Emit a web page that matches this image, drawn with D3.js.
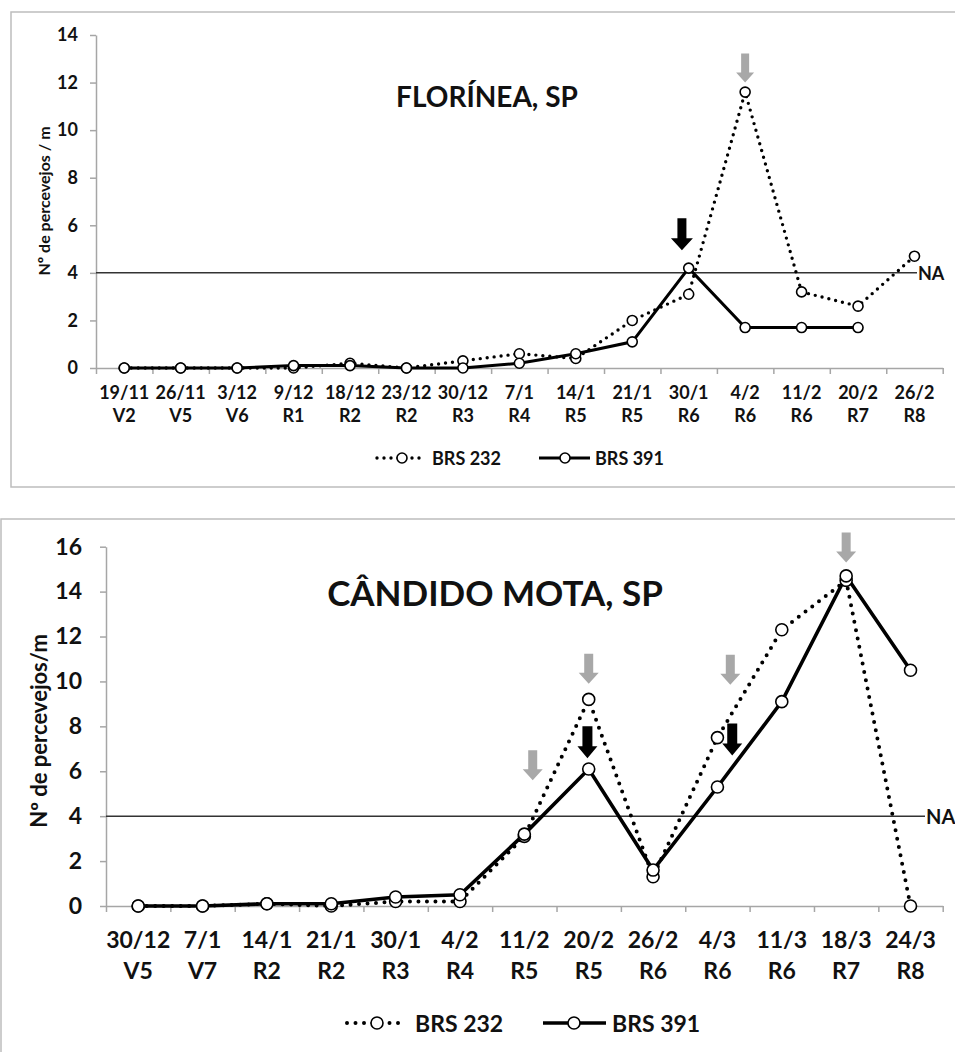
<!DOCTYPE html>
<html>
<head>
<meta charset="utf-8">
<script src="https://cdnjs.cloudflare.com/ajax/libs/d3/7.8.5/d3.min.js"></script>
<style>
  body { margin: 0; background: #fff; }
</style>
</head>
<body>
<script>
// Florínea, SP - dates, stages and counts (bugs per metre)
const FLO_DATES = ["19/11", "26/11", "3/12", "9/12", "18/12", "23/12", "30/12", "7/1", "14/1", "21/1", "30/1", "4/2", "11/2", "20/2", "26/2"];
const FLO_STAGES = ["V2", "V5", "V6", "R1", "R2", "R2", "R3", "R4", "R5", "R5", "R6", "R6", "R6", "R7", "R8"];
const FLO_BRS232 = [0, 0, 0, 0, 0.2, 0, 0.3, 0.6, 0.4, 2.0, 3.1, 11.6, 3.2, 2.6, 4.7];
const FLO_BRS391 = [0, 0, 0, 0.1, 0.1, 0, 0, 0.2, 0.6, 1.1, 4.2, 1.7, 1.7, 1.7, null];
const FLO_YTICKS = [0, 2, 4, 6, 8, 10, 12, 14];
// spray marks: [category position, value at arrow tip]
const FLO_SPRAY_232 = [[11, 12.0]];
const FLO_SPRAY_391 = [[9.88, 4.95]];

// Cândido Mota, SP
const CM_DATES = ["30/12", "7/1", "14/1", "21/1", "30/1", "4/2", "11/2", "20/2", "26/2", "4/3", "11/3", "18/3", "24/3"];
const CM_STAGES = ["V5", "V7", "R2", "R2", "R3", "R4", "R5", "R5", "R6", "R6", "R6", "R7", "R8"];
const CM_BRS232 = [0, 0, 0.1, 0, 0.2, 0.2, 3.1, 9.2, 1.3, 7.5, 12.3, 14.5, 0];
const CM_BRS391 = [0, 0, 0.1, 0.1, 0.4, 0.5, 3.2, 6.1, 1.6, 5.3, 9.1, 14.7, 10.5];
const CM_YTICKS = [0, 2, 4, 6, 8, 10, 12, 14, 16];
const CM_SPRAY_232 = [[6.13, 5.6], [7, 9.9], [9.2, 9.85], [11, 15.3]];
const CM_SPRAY_391 = [[6.98, 6.58], [9.23, 6.7]];

const NA_LEVEL = 4;
const SERIES_NAMES = ["BRS 232", "BRS 391"];

const FONT = "Lato, 'Open Sans', sans-serif";
const W = 955, H = 1052;

const svg = d3.select("body").append("svg")
  .attr("width", W)
  .attr("height", H)
  .style("background", "#fff");

function arrowPath(tx, ty, a) {
  return "M" + (tx - a.sw) + "," + (ty - a.len) +
         "L" + (tx + a.sw) + "," + (ty - a.len) +
         "L" + (tx + a.sw) + "," + (ty - a.hh) +
         "L" + (tx + a.hw) + "," + (ty - a.hh) +
         "L" + tx + "," + ty +
         "L" + (tx - a.hw) + "," + (ty - a.hh) +
         "L" + (tx - a.sw) + "," + (ty - a.hh) + "Z";
}

function drawPanel(o) {
  const n = o.dates.length;
  const g = svg.append("g");

  // outer frame
  g.append("rect")
    .attr("x", o.frame[0]).attr("y", o.frame[1])
    .attr("width", o.frame[2]).attr("height", o.frame[3])
    .attr("fill", "none").attr("stroke", "#bdbdbd").attr("stroke-width", 1.5);

  const x = d3.scaleLinear().domain([0, n]).range([o.left, o.right]);
  const y = d3.scaleLinear().domain([0, o.yMax]).range([o.bottom, o.top]);

  // y axis
  const ya = g.append("g")
    .attr("transform", "translate(" + o.left + ",0)")
    .call(d3.axisLeft(y).tickValues(o.yTicks).tickSize(6).tickSizeOuter(0).tickPadding(o.yPad));
  ya.select(".domain").attr("stroke", "#a6a6a6").attr("stroke-width", 1.5);
  ya.selectAll(".tick line").attr("stroke", "#a6a6a6").attr("stroke-width", 1.5);
  ya.selectAll(".tick text")
    .attr("font-family", FONT).attr("font-weight", "bold")
    .attr("font-size", o.tickFont).attr("fill", "#111");

  // x axis, ticks between categories
  const xa = g.append("g")
    .attr("transform", "translate(0," + o.bottom + ")")
    .call(d3.axisBottom(x).tickValues(d3.range(n + 1)).tickFormat("").tickSize(6).tickSizeOuter(0));
  xa.select(".domain").attr("stroke", "#a6a6a6").attr("stroke-width", 1.5);
  xa.selectAll(".tick line").attr("stroke", "#a6a6a6").attr("stroke-width", 1.5);

  // category labels (date + stage)
  const lab = g.append("g")
    .attr("font-family", FONT).attr("font-weight", "bold")
    .attr("font-size", o.tickFont).attr("fill", "#111")
    .attr("text-anchor", "middle");
  lab.selectAll(".date")
    .data(o.dates)
    .enter()
    .append("text")
      .attr("x", (d, i) => x(i + 0.5))
      .attr("y", o.dateY)
      .text(d => d);
  lab.selectAll(".stage")
    .data(o.stages)
    .enter()
    .append("text")
      .attr("x", (d, i) => x(i + 0.5))
      .attr("y", o.stageY)
      .text(d => d);

  // y label
  g.append("text")
    .attr("transform", "translate(" + o.ylab[0] + "," + o.ylab[1] + ") rotate(-90)")
    .attr("text-anchor", "middle").attr("dominant-baseline", "central")
    .attr("font-family", FONT).attr("font-weight", "bold")
    .attr("font-size", o.ylabFont).attr("fill", "#111")
    .text(o.ylabText);

  // title
  g.append("text")
    .attr("x", o.title[0]).attr("y", o.title[1])
    .attr("text-anchor", "middle")
    .attr("font-family", FONT).attr("font-weight", "bold")
    .attr("font-size", o.titleFont).attr("fill", "#111")
    .text(o.titleText);

  // action threshold (NA)
  g.append("line")
    .attr("x1", o.left).attr("x2", o.naEnd)
    .attr("y1", y(NA_LEVEL)).attr("y2", y(NA_LEVEL))
    .attr("stroke", "#333").attr("stroke-width", 1.5);
  g.append("text")
    .attr("x", o.naEnd + 1).attr("y", y(NA_LEVEL))
    .attr("dominant-baseline", "central")
    .attr("font-family", FONT).attr("font-weight", "bold")
    .attr("font-size", o.naFont).attr("fill", "#111")
    .text("NA");

  const line = d3.line()
    .defined(d => d != null)
    .x((d, i) => x(i + 0.5))
    .y(d => y(d));

  g.append("path")
    .datum(o.s232)
    .attr("d", line)
    .attr("fill", "none").attr("stroke", "#000")
    .attr("stroke-width", o.dotW)
    .attr("stroke-linecap", "round")
    .attr("stroke-dasharray", "0," + o.dotGap);

  g.append("path")
    .datum(o.s391)
    .attr("d", line)
    .attr("fill", "none").attr("stroke", "#000")
    .attr("stroke-width", o.solidW)
    .attr("stroke-linejoin", "miter");

  [o.s232, o.s391].forEach(s => {
    g.selectAll(null)
      .data(s.map((v, i) => [i, v]).filter(d => d[1] != null))
      .enter()
      .append("circle")
        .attr("cx", d => x(d[0] + 0.5))
        .attr("cy", d => y(d[1]))
        .attr("r", o.r)
        .attr("fill", "#fff").attr("stroke", "#000").attr("stroke-width", 1.6);
  });

  // spray arrows
  g.selectAll(null)
    .data(o.spray232)
    .enter()
    .append("path")
      .attr("d", d => arrowPath(x(d[0] + 0.5), y(d[1]), o.grayArrow))
      .attr("fill", "#a8a8a8");
  g.selectAll(null)
    .data(o.spray391)
    .enter()
    .append("path")
      .attr("d", d => arrowPath(x(d[0] + 0.5), y(d[1]), o.blackArrow))
      .attr("fill", "#000");

  // legend
  const lg = g.append("g")
    .attr("font-family", FONT).attr("font-weight", "bold")
    .attr("font-size", o.tickFont).attr("fill", "#111");
  const L = o.legend;
  lg.append("line")
    .attr("x1", L.a[0]).attr("x2", L.a[1]).attr("y1", L.y).attr("y2", L.y)
    .attr("stroke", "#000").attr("stroke-width", o.dotW)
    .attr("stroke-linecap", "round").attr("stroke-dasharray", "0," + o.dotGap);
  lg.append("circle")
    .attr("cx", L.a[2]).attr("cy", L.y).attr("r", o.r)
    .attr("fill", "#fff").attr("stroke", "#000").attr("stroke-width", 1.6);
  lg.append("text")
    .attr("x", L.a[3]).attr("y", L.y).attr("dominant-baseline", "central")
    .text(SERIES_NAMES[0]);
  lg.append("line")
    .attr("x1", L.b[0]).attr("x2", L.b[1]).attr("y1", L.y).attr("y2", L.y)
    .attr("stroke", "#000").attr("stroke-width", o.solidW);
  lg.append("circle")
    .attr("cx", L.b[2]).attr("cy", L.y).attr("r", o.r)
    .attr("fill", "#fff").attr("stroke", "#000").attr("stroke-width", 1.6);
  lg.append("text")
    .attr("x", L.b[3]).attr("y", L.y).attr("dominant-baseline", "central")
    .text(SERIES_NAMES[1]);
}

drawPanel({
  dates: FLO_DATES, stages: FLO_STAGES, s232: FLO_BRS232, s391: FLO_BRS391,
  yTicks: FLO_YTICKS, yMax: 14,
  spray232: FLO_SPRAY_232, spray391: FLO_SPRAY_391,
  frame: [11, 12, 960, 475],
  left: 96, right: 942.7, top: 35, bottom: 368,
  yPad: 12, tickFont: 18, naFont: 18,
  dateY: 399, stageY: 422,
  ylab: [43, 201], ylabFont: 16, ylabText: "Nº de percevejos / m",
  title: [487, 107], titleFont: 28, titleText: "FLORÍNEA, SP",
  naEnd: 917,
  dotW: 3.4, dotGap: 7, solidW: 3, r: 5,
  grayArrow: { sw: 4, hw: 9, hh: 10, len: 29 },
  blackArrow: { sw: 4.5, hw: 11, hh: 12, len: 32 },
  legend: { y: 458, a: [377, 422, 402, 432], b: [539, 590, 565, 595] }
});

drawPanel({
  dates: CM_DATES, stages: CM_STAGES, s232: CM_BRS232, s391: CM_BRS391,
  yTicks: CM_YTICKS, yMax: 16,
  spray232: CM_SPRAY_232, spray391: CM_SPRAY_391,
  frame: [1, 519, 980, 600],
  left: 106, right: 942.7, top: 546.7, bottom: 906,
  yPad: 18, tickFont: 23, naFont: 20,
  dateY: 948, stageY: 979,
  ylab: [38, 731], ylabFont: 22, ylabText: "Nº de percevejos/m",
  title: [495, 606], titleFont: 35, titleText: "CÂNDIDO MOTA, SP",
  naEnd: 925,
  dotW: 4, dotGap: 8.5, solidW: 3.6, r: 6,
  grayArrow: { sw: 4.5, hw: 10, hh: 11, len: 30 },
  blackArrow: { sw: 5, hw: 10, hh: 12, len: 32 },
  legend: { y: 1023, a: [347, 400, 377, 415], b: [543, 606, 574, 612] }
});
</script>
</body>
</html>
